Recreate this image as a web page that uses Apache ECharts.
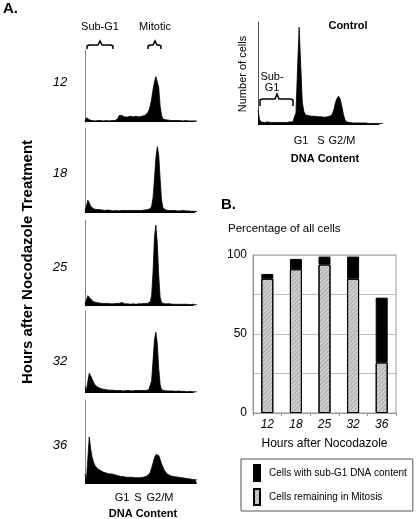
<!DOCTYPE html>
<html><head><meta charset="utf-8">
<script src="https://cdn.jsdelivr.net/npm/echarts@6/dist/echarts.min.js"></script>
<style>html,body{margin:0;padding:0;background:#fff}#c{width:416px;height:519px}</style>
</head><body><div id="c"></div>
<script>
// ---------- DATA ----------
// Flow-cytometry histograms (80 DNA-content bins, counts as % of panel height)
const bins = Array.from({length: 80}, (_, i) => String(i));
const h12 = [2,6,5,3,2,
  2,2,1.5,2,2,1.5,2,2,1.5,2,2,2,1.5,2,2,2,2,2,
  4,9,10,9,8,
  7,8,7,7,8,7,7,7,8,7,7,8,8,8,9,
  10,12,16,22,32,45,56,63,65,48,22,9,4,
  3,3,2.5,2.5,2,2,2,2,2,2,1.5,2,2,1.5,1.5,2,1.5,1.5,1.5,1.5,1.5,1.5,1.5,1.5];
const h18 = [3,8,15,12,8,
  6,5,5,4,4,4,3.5,3.5,
  3,3,3,3.5,3,3,3,2.5,3,3,3,2.5,3,3,3,3,2.5,3,3,3,3,3,2.5,3,3,3,3,3,3,3.5,3.5,4,
  4.5,5,8,18,40,65,78,68,40,15,6,
  4,3.5,3,3,3,3,2.5,3,3,2.5,3,2.5,2.5,3,2.5,2.5,2,2.5,2.5,2,2,2,2,2];
const h25 = [3,7,12,10,8,
  6,5,5,4,4,3.5,3.5,3,
  3,3,2.5,3,3,2.5,3,2.5,2.5,3,3,3,3,4,3,2.5,2.5,2.5,2.5,2,2.5,2.5,2.5,2,2.5,2.5,2.5,2.5,2.5,3,3,3,
  3.5,5,12,40,80,94,72,35,10,4,3,
  2.5,2.5,2.5,2,2.5,2,2,2.5,2,2,2,2,2,2,2,1.5,2,2,1.5,1.5,2,1.5,1.5,1.5];
const h32 = [8,3,14,24,21,
  17,13,10,8,7,6,5.5,5,
  4.5,4,4,4,3.5,3.5,3.5,3,3,3,3,3,3,3,2.5,3,3,2.5,3,3,2.5,3,3,2.5,3,3,3,2.5,3,3,3,3.5,
  4,6,15,40,65,74,60,30,10,4,3,
  3,2.5,2.5,2.5,2.5,2,2.5,2.5,2,2,2.5,2,2,2,2,2,1.5,2,2,1.5,1.5,1.5,1.5,1.5];
const h36 = [12,4,30,56,42,
  32,26,22,20,18,17,16,15,
  14,14,13,13,12,12,12,11,11,10,10,10,9,9,9,9,8,8,8,8,8,8,7.5,7.5,7.5,7.5,7.5,7.5,8,8,9,9.5,
  11,14,19,25,31,35,37,34,29,24,20,
  16,14,12,11,10,10,9,9,8.5,8.5,8,8,7.5,7.5,7,7,6.5,6.5,6,6,5.5,5.5,5,5];
const hControl = [14,5,3,2.5,2.5,
  2.5,3,2.5,2.5,3,2.5,2.5,2.5,3,2.5,2.5,2.5,3,2.5,2.5,3,2.5,3,
  4,12,55,95,58,22,13,10,
  9,9,8.5,8.5,8,8.5,8,8,7.5,8,7.5,7.5,8,8,
  8.5,9,11,15,22,26,28,25,18,10,5,
  3,2.5,2.5,2.5,2,2.5,2,2,2,2,2,1.5,2,2,1.5,2,1.5,1.5,1.5,2,1.5,1.5,1.5,1.5];
const panelLabels = ['12','18','25','32','36'];

// Panel B: stacked percentages
const hours = ['12','18','25','32','36'];
const mitosis = [85, 91, 94, 85, 32];
const subG1 = [3, 6.5, 5, 14, 41];
const yTicks = [0, 50, 100];

// ---------- LAYOUT ----------
const FF = '"Liberation Sans", Arial, sans-serif';
const histGrids = [
  {top: 50, height: 72},
  {top: 128, height: 85},
  {top: 220, height: 86},
  {top: 311, height: 82},
  {top: 400, height: 84}
];
const histData = [h12, h18, h25, h32, h36];
const labelY = [82, 173, 267, 361, 445];

const grid = [], xAxis = [], yAxis = [], series = [];
histGrids.forEach((g, k) => {
  grid.push({left: 85, width: 112, top: g.top, height: g.height});
  xAxis.push({gridIndex: k, type: 'category', data: bins, boundaryGap: false, show: false});
  yAxis.push({gridIndex: k, type: 'value', min: 0, max: 100, axisLine: {show: true, lineStyle: {color: '#888', width: 1}},
    axisTick: {show: false}, axisLabel: {show: false}, splitLine: {show: false}});
  series.push({type: 'line', xAxisIndex: k, yAxisIndex: k, data: histData[k], symbol: 'none', silent: true,
    lineStyle: {color: '#000', width: 0.8}, areaStyle: {color: '#000', opacity: 1}});
});
// control histogram
grid.push({left: 258, width: 125, top: 22, height: 103});
xAxis.push({gridIndex: 5, type: 'category', data: bins, boundaryGap: false, show: false});
yAxis.push({gridIndex: 5, type: 'value', min: 0, max: 100, axisLine: {show: true, lineStyle: {color: '#555', width: 1}},
  axisTick: {show: false}, axisLabel: {show: false}, splitLine: {show: false}});
series.push({type: 'line', xAxisIndex: 5, yAxisIndex: 5, data: hControl, symbol: 'none', silent: true,
  lineStyle: {color: '#000', width: 0.8}, areaStyle: {color: '#000', opacity: 1}});

// bar chart
grid.push({left: 253, width: 143, top: 255, height: 158, show: true, borderColor: '#999', borderWidth: 1});
xAxis.push({gridIndex: 6, type: 'category', data: hours,
  axisLine: {lineStyle: {color: '#999'}}, axisTick: {show: true, length: 3, lineStyle: {color: '#999'}},
  axisLabel: {fontFamily: FF, fontSize: 12, fontStyle: 'italic', color: '#000', margin: 6},
  name: 'Hours after Nocodazole', nameLocation: 'middle', nameGap: 25,
  nameTextStyle: {fontFamily: FF, fontSize: 12, color: '#000'}});
yAxis.push({gridIndex: 6, type: 'value', min: 0, max: 100, interval: 25,
  axisLine: {show: true, lineStyle: {color: '#999'}}, axisTick: {show: false},
  axisLabel: {fontFamily: FF, fontSize: 12, color: '#000', margin: 6,
    formatter: v => (yTicks.indexOf(v) >= 0 ? String(v) : '')},
  splitLine: {lineStyle: {color: '#bbb', width: 1}}});
series.push({name: 'Cells remaining in Mitosis', type: 'bar', stack: 'p', xAxisIndex: 6, yAxisIndex: 6,
  data: mitosis, barWidth: 12,
  itemStyle: {color: '#cfcfcf', borderColor: '#000', borderWidth: 1,
    decal: {symbol: 'rect', symbolSize: 1, dashArrayX: [1, 0], dashArrayY: [1, 2], rotation: -Math.PI / 4, color: 'rgba(0,0,0,0.18)'}}});
series.push({name: 'Cells with sub-G1 DNA content', type: 'bar', stack: 'p', xAxisIndex: 6, yAxisIndex: 6,
  data: subG1, barWidth: 12, itemStyle: {color: '#000', borderColor: '#000', borderWidth: 1}});

// ---------- ANNOTATIONS ----------
function txt(x, y, text, size, opts) {
  opts = opts || {};
  return {type: 'text', x: x, y: y, rotation: opts.rot || 0, silent: true,
    style: {text: text, fill: '#000',
      font: (opts.italic ? 'italic ' : '') + (opts.bold ? 'bold ' : '') + size + 'px ' + FF,
      align: opts.align || 'center', textAlign: opts.align || 'center',
      verticalAlign: 'middle', textVerticalAlign: 'middle'}};
}
function brace(x1, x2, cx, ty, dh, de) {
  return {type: 'polyline', silent: true,
    shape: {points: [[x1, ty + de], [x1, ty + dh + 1], [x1 + 2, ty + dh], [cx - 2, ty + dh], [cx, ty],
      [cx + 2, ty + dh], [x2 - 2, ty + dh], [x2, ty + dh + 1], [x2, ty + de]]},
    style: {stroke: '#000', fill: null, lineWidth: 1.5}};
}
const graphic = [
  txt(3, 9, 'A.', 15, {bold: true, align: 'left'}),
  txt(100, 27, 'Sub-G1', 11),
  txt(155, 27, 'Mitotic', 11),
  brace(87, 113, 100, 41, 4, 8),
  brace(148, 161, 155, 41, 4, 8),
  txt(28, 262, 'Hours after Nocodazole Treatment', 15, {bold: true, rot: Math.PI / 2}),
  txt(122, 498, 'G1', 11),
  txt(138, 498, 'S', 11),
  txt(160, 498, 'G2/M', 11),
  txt(143, 514, 'DNA Content', 11, {bold: true}),
  txt(348, 26, 'Control', 11, {bold: true}),
  txt(243, 74, 'Number of cells', 11, {rot: Math.PI / 2}),
  txt(272, 77, 'Sub-', 11),
  txt(272, 88, 'G1', 11),
  brace(260, 293, 277, 94, 5, 12),
  txt(301, 141, 'G1', 11),
  txt(321, 141, 'S', 11),
  txt(342, 141, 'G2/M', 11),
  txt(325, 159, 'DNA Content', 11, {bold: true}),
  txt(221, 205, 'B.', 15, {bold: true, align: 'left'}),
  txt(228, 229, 'Percentage of all cells', 11.5, {align: 'left'})
];
panelLabels.forEach((t, k) => graphic.push(txt(60, labelY[k], t, 13, {italic: true})));

const chart = echarts.init(document.getElementById('c'), null, {renderer: 'canvas'});
chart.setOption({
  animation: false,
  backgroundColor: '#fff',
  textStyle: {fontFamily: FF},
  grid: grid, xAxis: xAxis, yAxis: yAxis, series: series,
  legend: {orient: 'vertical', left: 241, top: 459, icon: 'rect', itemWidth: 6, itemHeight: 16, itemGap: 6,
    padding: [5, 6, 5, 12], borderColor: '#555', borderWidth: 1,
    data: ['Cells with sub-G1 DNA content', 'Cells remaining in Mitosis'],
    textStyle: {fontFamily: FF, fontSize: 10, color: '#000', padding: [0, 0, 0, 4]}, selectedMode: false},
  graphic: graphic
});
</script></body></html>
